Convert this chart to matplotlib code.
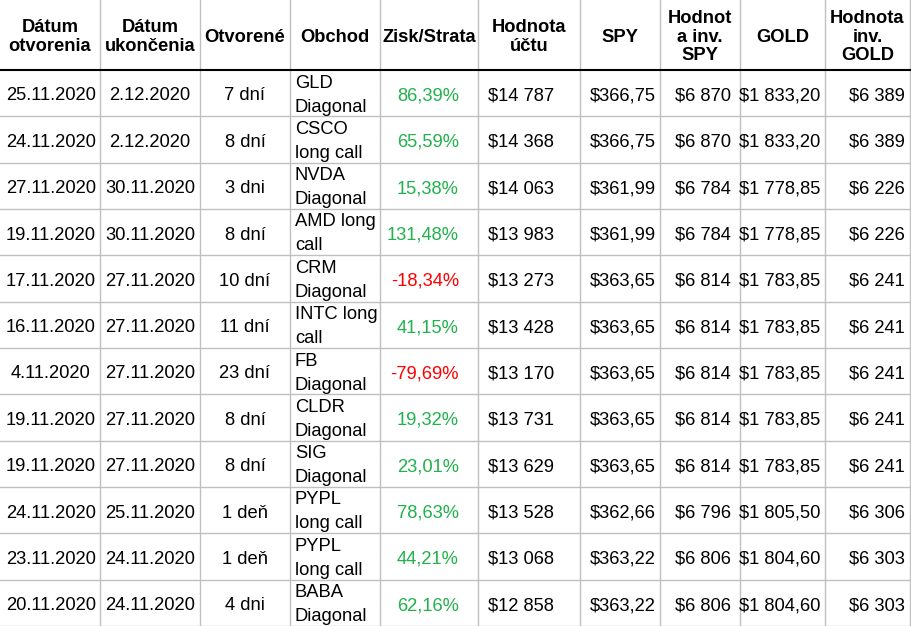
import matplotlib
matplotlib.use("Agg")
import matplotlib.pyplot as plt

headers = ["Dátum\notvorenia", "Dátum\nukončenia", "Otvorené", "Obchod", "Zisk/Strata",
           "Hodnota\núčtu", "SPY", "Hodnot\na inv.\nSPY", "GOLD", "Hodnota\ninv.\nGOLD"]
open_d = ["25.11.2020","24.11.2020","27.11.2020","19.11.2020","17.11.2020","16.11.2020",
          "4.11.2020","19.11.2020","19.11.2020","24.11.2020","23.11.2020","20.11.2020"]
close_d = ["2.12.2020","2.12.2020","30.11.2020","30.11.2020","27.11.2020","27.11.2020",
           "27.11.2020","27.11.2020","27.11.2020","25.11.2020","24.11.2020","24.11.2020"]
days = ["7 dní","8 dní","3 dni","8 dní","10 dní","11 dní","23 dní","8 dní","8 dní","1 deň","1 deň","4 dni"]
trades = [("GLD","Diagonal"),("CSCO","long call"),("NVDA","Diagonal"),("AMD long","call"),
          ("CRM","Diagonal"),("INTC long","call"),("FB","Diagonal"),("CLDR","Diagonal"),
          ("SIG","Diagonal"),("PYPL","long call"),("PYPL","long call"),("BABA","Diagonal")]
pl = [86.39,65.59,15.38,131.48,-18.34,41.15,-79.69,19.32,23.01,78.63,44.21,62.16]
acct = ["$14 787","$14 368","$14 063","$13 983","$13 273","$13 428","$13 170","$13 731",
        "$13 629","$13 528","$13 068","$12 858"]
spy = ["$366,75","$366,75","$361,99","$361,99","$363,65","$363,65","$363,65","$363,65",
       "$363,65","$362,66","$363,22","$363,22"]
spy_inv = ["$6 870","$6 870","$6 784","$6 784","$6 814","$6 814","$6 814","$6 814",
           "$6 814","$6 796","$6 806","$6 806"]
gold = ["$1 833,20","$1 833,20","$1 778,85","$1 778,85","$1 783,85","$1 783,85","$1 783,85",
        "$1 783,85","$1 783,85","$1 805,50","$1 804,60","$1 804,60"]
gold_inv = ["$6 389","$6 389","$6 226","$6 226","$6 241","$6 241","$6 241","$6 241",
            "$6 241","$6 306","$6 303","$6 303"]

W, H = 912, 626
fig = plt.figure(figsize=(9.12, 6.26), dpi=100)
ax = fig.add_axes([0, 0, 1, 1])
ax.set_xlim(0, W); ax.set_ylim(H, 0); ax.axis("off")
plt.rcParams['font.family'] = ['Liberation Sans', 'DejaVu Sans']

cols = [0, 100, 200, 290, 380, 478, 580, 660, 740, 825, 910]
hdr_h = 70
rh = (H - hdr_h) / 12
fs = 13.2
for x in cols[1:]:
    ax.plot([x, x], [0, H], color="#c0c0c0", lw=1)
for i in range(1, 13):
    y = hdr_h + i * rh
    ax.plot([0, W], [y, y], color="#c0c0c0", lw=1)
ax.plot([0, W], [hdr_h, hdr_h], color="black", lw=1.5)

for j, h in enumerate(headers):
    cx = (cols[j] + cols[j+1]) / 2
    ax.text(cx, 37, h, ha="center", va="center", fontsize=fs, fontweight="bold", linespacing=1.1)

for i in range(12):
    top = hdr_h + i * rh
    yc = top + 26
    ax.text(51, yc, open_d[i], ha="center", va="center", fontsize=fs)
    ax.text(150, yc, close_d[i], ha="center", va="center", fontsize=fs)
    ax.text(245, yc, days[i], ha="center", va="center", fontsize=fs)
    ax.text(295, top + 13, trades[i][0], ha="left", va="center", fontsize=fs)
    ax.text(295, top + 37, trades[i][1], ha="left", va="center", fontsize=fs)
    col = "#22b14c" if pl[i] >= 0 else "#ff0000"
    ax.text(459, yc, f"{pl[i]:.2f}%".replace(".", ","), ha="right", va="center", fontsize=fs, color=col)
    ax.text(554, yc, acct[i], ha="right", va="center", fontsize=fs)
    ax.text(656, yc, spy[i], ha="right", va="center", fontsize=fs)
    ax.text(731, yc, spy_inv[i], ha="right", va="center", fontsize=fs)
    ax.text(820, yc, gold[i], ha="right", va="center", fontsize=fs)
    ax.text(905, yc, gold_inv[i], ha="right", va="center", fontsize=fs)

fig.savefig("out.png", dpi=100, facecolor="white")
